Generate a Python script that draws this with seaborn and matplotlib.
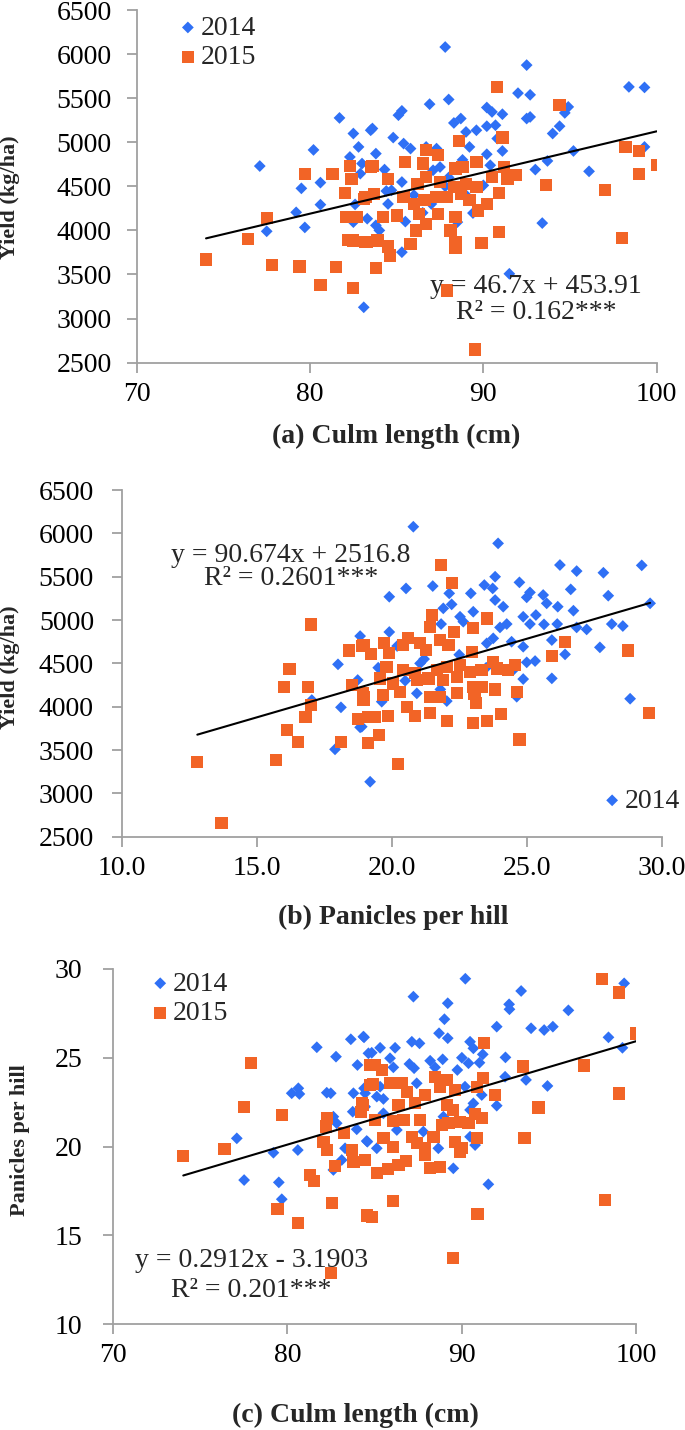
import numpy as np
import matplotlib
matplotlib.use('Agg')
import matplotlib.pyplot as plt
import seaborn as sns

# ---- (a) culm length vs yield ----
a_x14 = [77.1, 77.5, 79.2, 79.5, 79.7, 80.2, 80.6, 80.6, 81.7, 82.5,
         82.8, 82.3, 83.0, 82.9, 82.6, 82.5, 83.3, 83.1, 83.5, 87.8,
         92.5, 98.4, 99.3, 92.0, 92.7, 88.0, 86.9, 85.3, 85.1, 90.2,
         90.5, 91.1, 88.7, 88.3, 92.5, 92.7, 94.9, 94.7, 94.4, 94.0,
         90.2, 90.7, 89.6, 89.0, 83.6, 84.8, 85.4, 85.8, 90.8, 91.1,
         89.2, 95.2, 99.3, 83.8, 86.7, 87.3, 93.0, 93.7, 96.1, 90.2,
         90.4, 87.5, 87.1, 84.3, 85.3, 84.4, 84.7, 83.8, 84.0, 85.3,
         93.4, 91.5, 89.4, 90.0, 88.5, 86.0, 87.0, 88.0, 89.0, 86.5,
         85.5, 88.8, 87.8, 91.5, 84.5]
a_y14 = [4730, 3990, 4205, 4477, 4034, 4913, 4542, 4292, 5276, 5099,
         4947, 4833, 4758, 4644, 4295, 4094, 4133, 3128, 5136, 6080,
         5875, 5628, 5622, 5557, 5538, 5485, 5432, 5356, 5307, 5394,
         5344, 5318, 5269, 5219, 5269, 5287, 5401, 5333, 5182, 5099,
         5182, 5193, 5136, 5117, 5156, 5053, 4985, 4928, 5042, 4901,
         4947, 4901, 4947, 4871, 4947, 4928, 4690, 4788, 4670, 4864,
         4739, 4719, 4682, 4690, 4549, 4447, 4455, 4057, 4000, 3753,
         4083, 3508, 4197, 4511, 4094, 4400, 4300, 4600, 4400, 4200,
         4100, 4800, 4500, 4600, 4300]
a_x15 = [74.0, 76.4, 77.5, 77.8, 79.4, 79.7, 80.6, 81.3, 81.5, 82.0,
         82.3, 82.4, 82.5, 82.1, 82.7, 82.2, 82.5, 83.2, 83.2, 83.5,
         90.8, 94.4, 91.1, 88.6, 98.2, 99.0, 100.0, 99.0, 97.0, 98.0,
         93.6, 91.2, 91.9, 91.4, 90.9, 90.9, 89.9, 89.5, 87.9, 88.4,
         88.4, 83.8, 84.6, 84.5, 83.3, 83.9, 85.8, 86.1, 86.7, 85.0,
         84.2, 86.3, 87.4, 88.4, 89.7, 90.2, 89.2, 88.7, 87.9, 87.3,
         86.6, 86.0, 85.4, 83.7, 83.1, 86.2, 86.7, 87.5, 88.3, 89.0,
         89.6, 88.8, 88.4, 89.6, 90.5, 84.5, 85.5, 86.5, 86.7, 87.4,
         83.6, 88.1]
a_y15 = [3670, 3901, 4144, 3610, 3591, 4636, 3383, 4644, 3583, 4428,
         4731, 4580, 3349, 4151, 4151, 3894, 3886, 3867, 4379, 4719,
         5628, 5424, 5053, 5015, 4947, 4901, 4739, 4644, 4462, 3917,
         4511, 4719, 4625, 4587, 4424, 3981, 3860, 2648, 3318, 3867,
         3803, 3572, 3716, 3818, 3867, 3886, 3848, 4000, 4076, 4170,
         4151, 4189, 4189, 4151, 4227, 4303, 4341, 4417, 4379, 4379,
         4341, 4303, 4379, 4417, 4360, 4530, 4606, 4549, 4492, 4530,
         4492, 4719, 4701, 4777, 4606, 4587, 4777, 4758, 4909, 4852,
         4731, 4000]

# ---- (b) panicles per hill vs yield ----
b_x14 = [18.83, 18.01, 18.74, 17.04, 18.12, 18.83, 17.90, 19.20,
         20.80, 23.94, 26.23, 26.85, 27.84, 29.26, 29.57, 28.83,
         19.91, 20.53, 21.52, 22.13, 23.83, 24.73, 23.43, 23.74, 25.12, 25.61,
         26.63, 28.02, 25.00, 23.83, 22.93, 22.22, 21.91, 23.02, 24.13, 25.74,
         26.15, 26.73, 22.53, 22.65, 24.87, 25.34, 25.12, 25.64, 26.13, 24.26,
         24.01, 26.85, 27.22, 28.15, 28.56, 21.83, 19.91, 23.76, 23.52, 24.44,
         24.87, 25.93, 26.42, 27.71, 25.31, 25.00, 24.50, 24.87, 25.93, 24.63,
         21.05, 22.04, 20.93, 19.63, 18.89,
         20.5, 21.2, 22.5, 23.5, 21.8, 19.5, 20.2]
b_y14 = [4815, 4489, 4308, 4077, 3993, 3762, 3508, 3134,
         6077, 5885, 5635, 5565, 5546, 5631, 5193, 4092,
         5269, 5365, 5392, 5308, 5500, 5435, 5404, 5365, 5319, 5289,
         5354, 5281, 5262, 5231, 5308, 5181, 5135, 5096, 5154, 5193,
         5154, 5108, 5038, 4981, 5038, 5058, 4954, 4950, 4954, 4954,
         4915, 4915, 4892, 4954, 4931, 4954, 4862, 4789, 4731, 4750,
         4692, 4769, 4604, 4685, 4527, 4512, 4423, 4319, 4327, 4115,
         4500, 4065, 4154, 4058, 3769,
         4300, 4550, 4600, 4450, 4200, 4450, 4700]
b_x15 = [12.80, 13.70, 15.71, 16.02, 16.21, 16.11, 16.52, 16.81, 16.91, 17.00,
         17.01, 18.11, 18.42, 18.52, 18.76, 18.89, 18.93, 18.95, 19.13, 19.13,
         21.83, 22.22, 23.52, 23.02, 21.48, 21.41, 22.32, 20.61, 19.71, 18.95,
         19.23, 20.43, 21.05, 21.79, 22.10, 19.91, 21.27, 22.96, 26.42, 28.74,
         25.93, 19.81, 20.43, 20.86, 21.67, 22.04, 22.53, 22.90, 23.33, 23.76,
         23.89, 24.32, 24.57, 19.57, 20.06, 20.93, 21.36, 21.91, 22.41, 23.02,
         23.33, 23.83, 24.63, 18.95, 19.69, 20.31, 21.41, 21.79, 22.41, 23.07,
         23.13, 20.56, 20.86, 21.41, 19.38, 19.87, 22.04, 23.02, 23.54, 24.04,
         29.54, 24.73, 19.54, 20.22]
b_y15 = [3358, 2661, 3385, 4224, 4435, 3731, 3596, 3884, 4224, 4019,
         4950, 3596, 4650, 4250, 3854, 4704, 4154, 4077, 3884, 3577,
         5635, 5431, 5019, 4911, 5058, 4923, 4865, 4789, 4739, 4712,
         4604, 4712, 4731, 4769, 4712, 4616, 4654, 4635, 4750, 4650,
         4589, 4462, 4423, 4385, 4423, 4462, 4481, 4404, 4423, 4519,
         4442, 4423, 4481, 4327, 4269, 4308, 4327, 4308, 4346, 4231,
         4231, 4200, 4173, 4115, 4135, 4173, 4115, 4115, 4161, 4146,
         4039, 4000, 3892, 3931, 3884, 3892, 3839, 3808, 3839, 3912,
         3931, 3623, 3673, 3335]

# ---- (c) culm length vs panicles per hill ----
c_x14 = [77.10, 77.52, 79.20, 79.51, 79.68, 80.25, 80.63, 80.69, 80.60, 81.69,
         82.26, 82.49, 82.79, 82.64, 83.12, 83.64, 84.36, 84.02, 83.79, 84.40,
         83.75, 83.98, 84.59, 84.65, 83.31, 82.83, 82.64, 90.21, 99.32, 87.23,
         93.41, 89.20, 92.72, 92.74, 96.12, 89.01, 92.01, 93.98, 94.73, 95.23,
         88.70, 89.20, 98.42, 99.22, 84.40, 85.32, 86.18, 87.14, 87.58, 84.84,
         90.48, 90.67, 91.21, 85.89, 87.00, 87.27, 88.19, 88.91, 90.01, 90.39,
         91.02, 92.51, 86.08, 88.47, 89.75, 92.49, 93.69, 94.92, 92.01, 90.19,
         87.42, 85.32, 85.13, 85.51, 84.46, 90.67, 91.15, 85.51, 84.46, 88.95,
         90.48, 86.28, 87.80, 90.48, 84.55, 85.13, 88.66, 90.77, 89.52, 91.53]
c_y14 = [20.46, 18.11, 19.65, 17.98, 17.03, 23.00, 23.28, 22.96, 19.80, 25.59,
         23.03, 23.00, 25.06, 18.68, 19.24, 26.04, 26.19, 24.59, 23.00, 23.28,
         21.96, 20.97, 20.27, 25.25, 19.90, 21.31, 21.68, 29.45, 29.19, 28.44,
         28.76, 28.07, 28.01, 27.73, 27.67, 27.17, 26.75, 26.66, 26.56, 26.75,
         26.38, 26.10, 26.15, 25.56, 26.15, 25.56, 25.56, 25.90, 25.81, 25.28,
         25.90, 25.53, 25.19, 24.97, 24.65, 24.41, 24.83, 24.91, 25.00, 24.69,
         24.72, 25.02, 24.46, 24.46, 24.31, 23.93, 23.75, 23.41, 22.30, 23.37,
         23.56, 23.37, 22.81, 22.68, 23.00, 22.43, 22.90, 21.87, 22.24, 21.68,
         22.06, 20.93, 20.84, 20.55, 20.31, 19.90, 19.90, 20.08, 18.77, 17.87]
c_x15 = [74.03, 76.39, 77.50, 77.90, 79.43, 79.68, 80.60, 81.30, 81.53, 82.26,
         82.22, 82.07, 82.26, 82.55, 82.49, 82.74, 83.25, 83.70, 83.79, 84.27,
         84.23, 84.46, 84.56, 84.75, 84.75, 98.04, 99.03, 100.0, 91.28, 93.51,
         97.02, 99.03, 94.40, 93.60, 98.23, 90.90, 89.49, 86.08, 84.55, 84.84,
         85.03, 85.42, 84.93, 85.89, 86.56, 86.85, 88.47, 89.14, 91.21, 90.87,
         91.92, 89.62, 87.90, 88.76, 84.36, 86.37, 87.33, 89.14, 89.52, 90.77,
         91.15, 85.03, 86.08, 86.66, 87.61, 88.86, 89.24, 89.91, 90.39, 90.87,
         85.51, 87.14, 88.38, 86.08, 87.42, 87.90, 89.62, 90.01, 89.91, 87.90,
         84.46, 86.81, 86.37, 85.79, 85.13, 88.19, 88.76]
c_y15 = [19.46, 19.86, 22.24, 24.69, 16.46, 21.77, 15.71, 18.39, 18.07, 21.59,
         21.12, 20.27, 19.80, 16.80, 12.86, 18.90, 20.74, 19.80, 19.14, 22.43,
         21.96, 19.24, 16.08, 24.59, 23.46, 29.45, 28.67, 26.36, 25.85, 24.50,
         24.57, 22.98, 22.19, 20.48, 16.99, 16.18, 13.70, 16.95, 16.14, 16.01,
         24.59, 24.31, 23.52, 23.56, 23.56, 23.09, 23.93, 23.75, 23.84, 23.37,
         22.90, 23.18, 22.90, 23.37, 22.34, 22.34, 22.43, 22.34, 22.06, 21.83,
         21.59, 21.49, 21.45, 21.49, 21.49, 21.21, 21.31, 21.40, 21.31, 20.46,
         20.46, 20.55, 20.55, 19.99, 20.18, 19.90, 20.27, 19.90, 19.71, 19.52,
         19.24, 19.18, 18.96, 18.72, 18.49, 18.77, 18.86]

# trend line coefficients (slope, intercept) and labels
fits = [(46.7, 453.91), (90.674, 2516.8), (0.2912, -3.1903)]
eq_text = ['y = 46.7x + 453.91', 'y = 90.674x + 2516.8', 'y = 0.2912x - 3.1903']
r2_text = ['R\u00b2 = 0.162***', 'R\u00b2 = 0.2601***', 'R\u00b2 = 0.201***']
x_titles = ['(a) Culm length (cm)', '(b) Panicles per hill', '(c) Culm length (cm)']
y_titles = ['Yield (kg/ha)', 'Yield (kg/ha)', 'Panicles per hill']
years = ['2014', '2015']

sns.set_theme(style='white')
plt.rcParams['font.family'] = ['Liberation Serif', 'DejaVu Serif']

BLUE = '#2F70F5'
ORANGE = '#F26426'
AXC = '#A0A0A0'
FS = 20

fig = plt.figure(figsize=(6.85, 14.3), dpi=100)


def draw_panel(rect, x14, y14, x15, y15, fit, i):
    ax = fig.add_axes(rect)
    sns.scatterplot(x=x14, y=y14, ax=ax, marker='D', s=36, color=BLUE,
                    edgecolor='none', label=years[0], zorder=2)
    sns.scatterplot(x=x15, y=y15, ax=ax, marker='s', s=78, color=ORANGE,
                    edgecolor='none', label=years[1], zorder=3)
    xs = np.array([min(min(x14), min(x15)), max(max(x14), max(x15))])
    ax.plot(xs, fit[0] * xs + fit[1], color='black', lw=1.5, zorder=4)
    for s in ['top', 'right']:
        ax.spines[s].set_visible(False)
    for s in ['left', 'bottom']:
        ax.spines[s].set_color(AXC)
        ax.spines[s].set_linewidth(1.3)
    ax.tick_params(axis='both', which='major', direction='out', length=7,
                   width=1.3, color=AXC, labelsize=FS, labelcolor='black',
                   left=True, bottom=True)
    ax.tick_params(axis='x', pad=7)
    ax.set_xlabel(x_titles[i], fontsize=FS, fontweight='bold', va='center')
    ax.set_ylabel(y_titles[i], fontsize=16, fontweight='bold', va='center')
    return ax


def add_legend(ax, n, anchor):
    h, l = ax.get_legend_handles_labels()
    ax.legend(h[:n], l[:n], loc='upper left', bbox_to_anchor=anchor,
              frameon=False, fontsize=FS, handletextpad=0.05,
              handlelength=0.8, labelspacing=0.15, borderpad=0.0,
              borderaxespad=0.0)


# panel (a)
ax1 = draw_panel([0.1996, 0.7464, 0.759, 0.2466], a_x14, a_y14, a_x15, a_y15, fits[0], 0)
ax1.set_xlim(70, 100)
ax1.set_ylim(2500, 6500)
ax1.set_xticks([70, 80, 90, 100])
ax1.set_yticks(range(2500, 6501, 500))
ax1.tick_params(axis='y', pad=11)
ax1.xaxis.set_label_coords(0.50, -0.21)
ax1.yaxis.set_label_coords(-0.244, 0.47)
add_legend(ax1, 2, (0.077, 0.985))
ax1.text(0.768, 0.215, eq_text[0], transform=ax1.transAxes, ha='center',
         va='center', fontsize=FS)
ax1.text(0.768, 0.141, r2_text[0], transform=ax1.transAxes, ha='center',
         va='center', fontsize=FS)

# panel (b)
ax2 = draw_panel([0.1777, 0.4149, 0.7883, 0.2424], b_x14, b_y14, b_x15, b_y15, fits[1], 1)
ax2.set_xlim(10, 30)
ax2.set_ylim(2500, 6500)
ax2.set_xticks([10, 15, 20, 25, 30])
ax2.set_xticklabels(['%.1f' % v for v in [10, 15, 20, 25, 30]])
ax2.set_yticks(range(2500, 6501, 500))
ax2.tick_params(axis='y', pad=13)
ax2.xaxis.set_label_coords(0.502, -0.234)
ax2.yaxis.set_label_coords(-0.207, 0.49)
add_legend(ax2, 1, (0.8876, 0.14))
ax2.text(0.3135, 0.8125, eq_text[1], transform=ax2.transAxes, ha='center',
         va='center', fontsize=FS)
ax2.text(0.3135, 0.746, r2_text[1], transform=ax2.transAxes, ha='center',
         va='center', fontsize=FS)

# panel (c)
ax3 = draw_panel([0.165, 0.0741, 0.7635, 0.2483], c_x14, c_y14, c_x15, c_y15, fits[2], 2)
ax3.set_xlim(70, 100)
ax3.set_ylim(10, 30)
ax3.set_xticks([70, 80, 90, 100])
ax3.set_yticks([10, 15, 20, 25, 30])
ax3.tick_params(axis='y', pad=15)
ax3.xaxis.set_label_coords(0.463, -0.256)
ax3.yaxis.set_label_coords(-0.178, 0.518)
add_legend(ax3, 2, (0.069, 0.994))
ax3.text(0.264, 0.18, eq_text[2], transform=ax3.transAxes, ha='center',
         va='center', fontsize=FS)
ax3.text(0.264, 0.0958, r2_text[2], transform=ax3.transAxes, ha='center',
         va='center', fontsize=FS)

fig.savefig('out.png', dpi=100)
